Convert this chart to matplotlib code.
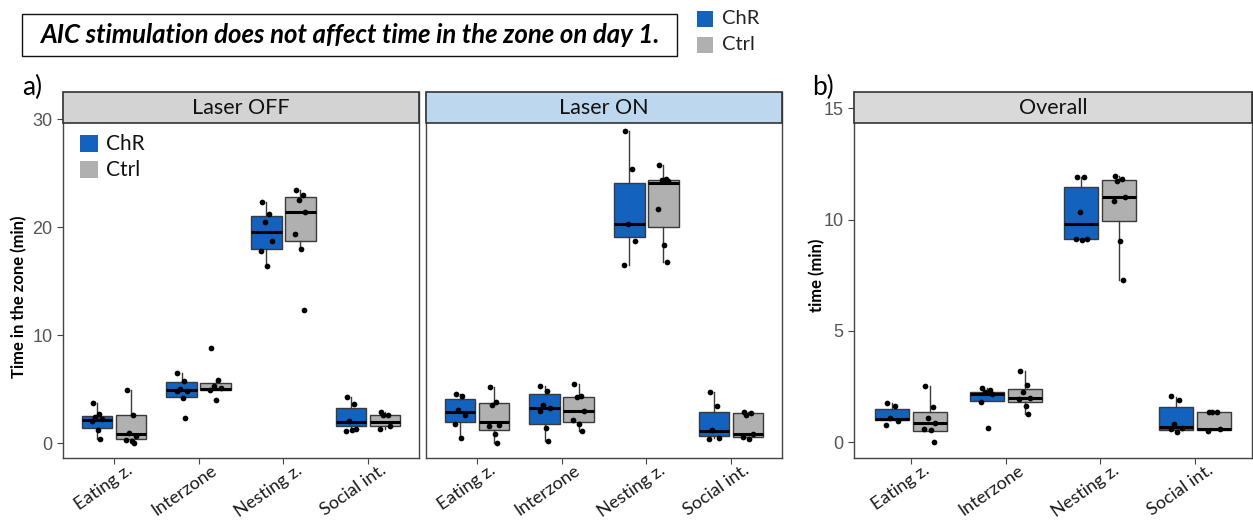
import matplotlib
matplotlib.use("Agg")
import matplotlib.pyplot as plt
from matplotlib.patches import Rectangle
from matplotlib.transforms import ScaledTranslation, blended_transform_factory

# ---------------- data ----------------
categories = ["Eating z.", "Interzone", "Nesting z.", "Social int."]
groups = ["ChR", "Ctrl"]

# box statistics per category: (whisker low, Q1, median, Q3, whisker high)
off_chr_box = [(0.40, 1.39, 2.16, 2.53, 3.72), (4.17, 4.23, 4.88, 5.62, 6.48),
               (16.36, 17.99, 19.57, 21.02, 22.28), (1.14, 1.54, 1.98, 3.21, 4.26)]
off_ctrl_box = [(0.00, 0.37, 0.86, 2.62, 4.94), (4.88, 4.88, 5.00, 5.56, 5.75),
                (17.99, 18.67, 21.36, 22.78, 23.46), (1.30, 1.54, 1.91, 2.59, 2.84)]
on_chr_box = [(0.46, 1.98, 2.84, 4.07, 4.57), (0.22, 1.79, 3.24, 4.51, 5.31),
              (16.51, 19.07, 20.28, 24.07, 28.86), (0.43, 0.62, 1.14, 2.87, 4.72)]
on_ctrl_box = [(0.00, 1.23, 1.94, 3.70, 5.19), (1.08, 1.91, 2.93, 4.26, 5.46),
               (16.76, 20.00, 24.07, 24.38, 25.77), (0.45, 0.56, 0.86, 2.78, 2.90)]
all_chr_box = [(1.00, 1.00, 1.05, 1.50, 1.78), (1.86, 1.86, 2.17, 2.28, 2.46),
               (9.13, 9.15, 9.78, 11.47, 11.90), (0.55, 0.55, 0.70, 1.60, 2.05)]
all_ctrl_box = [(0.52, 0.52, 0.88, 1.35, 2.53), (1.26, 1.80, 2.01, 2.40, 3.22),
                (7.29, 9.93, 11.03, 11.80, 11.96), (0.55, 0.55, 0.58, 1.35, 1.38)]

# individual animals
off_chr_pts = [[3.72, 2.65, 2.45, 2.20, 2.05, 1.25, 0.40],
               [6.48, 5.71, 5.00, 4.85, 4.78, 4.17, 2.31],
               [22.28, 21.17, 20.49, 18.67, 17.78, 16.36],
               [4.26, 3.61, 2.00, 1.33, 1.14, 1.20]]
off_ctrl_pts = [[4.94, 2.62, 0.90, 0.65, 0.30, 0.15, 0.02],
                [8.77, 5.80, 5.31, 5.09, 4.94, 3.95],
                [23.46, 22.99, 22.53, 21.36, 19.35, 17.99, 12.35],
                [2.84, 2.62, 2.55, 1.54, 1.30]]
on_chr_pts = [[4.57, 4.38, 3.02, 2.62, 1.79, 0.46],
              [5.31, 4.85, 3.55, 3.24, 2.99, 1.42, 0.22],
              [28.86, 25.40, 20.28, 18.67, 16.51],
              [4.72, 3.46, 1.17, 0.46, 0.40]]
on_ctrl_pts = [[5.19, 3.77, 3.55, 1.70, 1.55, 0.86, 0.00],
               [5.46, 4.32, 4.26, 2.93, 2.16, 1.79, 1.08],
               [25.77, 24.48, 24.38, 24.23, 21.70, 18.30, 16.76],
               [2.90, 2.78, 2.62, 0.86, 0.56, 0.40]]
all_chr_pts = [[1.78, 1.63, 1.08, 0.97, 0.78],
               [2.46, 2.35, 2.25, 2.17, 1.80, 0.63],
               [11.90, 11.90, 10.36, 9.13, 9.13, 9.09],
               [2.10, 1.90, 0.81, 0.63, 0.58, 0.48]]
all_ctrl_pts = [[2.53, 1.57, 1.11, 0.88, 0.58, 0.55, 0.00],
                [3.22, 2.57, 2.28, 2.01, 1.95, 1.65, 1.26],
                [11.96, 11.84, 11.75, 11.03, 10.82, 9.06, 7.29],
                [1.38, 1.38, 1.35, 0.60, 0.51]]

# ---------------- style ----------------
CHR_COLOR = "#1262be"
CTRL_COLOR = "#b0b0b0"
W, H = 1253, 521
LABEL_FONT = ["Lato", "DejaVu Sans"]
TICK_FONT = ["Liberation Sans", "DejaVu Sans"]
JITTER = [-0.05, 0.03, -0.02, 0.06, -0.06, 0.01, 0.04]

fig = plt.figure(figsize=(W / 100, H / 100), dpi=100)


def px_axes(x0, y0, x1, y1):
    """Axes from pixel box (top-left origin)."""
    return fig.add_axes([x0 / W, 1 - y1 / H, (x1 - x0) / W, (y1 - y0) / H])


def draw_panel(ax, chr_box, ctrl_box, chr_pts, ctrl_pts, ylim, yticks,
               strip_text, strip_color, strip_frac, show_y=True):
    ax.set_xlim(0.4, 4.6)
    ax.set_ylim(*ylim)
    for boxes, pts, off, col in ((chr_box, chr_pts, -0.2, CHR_COLOR),
                                 (ctrl_box, ctrl_pts, 0.2, CTRL_COLOR)):
        stats = [dict(whislo=b[0], q1=b[1], med=b[2], q3=b[3], whishi=b[4], fliers=[])
                 for b in boxes]
        pos = [i + 1 + off for i in range(len(categories))]
        ax.bxp(stats, positions=pos, widths=0.36, patch_artist=True, showcaps=False,
               showfliers=False,
               boxprops=dict(facecolor=col, edgecolor="#3a3a3a", linewidth=1.0),
               medianprops=dict(color="black", linewidth=2.2),
               whiskerprops=dict(color="#3a3a3a", linewidth=1.0), manage_ticks=False)
        for i, vals in enumerate(pts):
            xs = [pos[i] + JITTER[k % len(JITTER)] for k in range(len(vals))]
            ax.scatter(xs, vals, s=17, color="black", zorder=5, linewidths=0)
    ticks = list(range(1, len(categories) + 1))
    ax.set_xticks(ticks)
    ax.set_xticklabels([])
    # rotated category labels, anchored a little right of and below each tick
    base = blended_transform_factory(ax.transData, ax.transAxes)
    shift = ScaledTranslation(12 / 100, -4 / 100, fig.dpi_scale_trans)
    for t, name in zip(ticks, categories):
        ax.text(t, 0, name, transform=base + shift, rotation=35, ha="right", va="top",
                rotation_mode="anchor", fontsize=13, family=LABEL_FONT,
                color="#1a1a1a", clip_on=False)
    ax.set_yticks(yticks)
    ax.tick_params(axis="both", direction="out", length=4, color="#444444", width=0.8)
    if show_y:
        ax.set_yticklabels([str(t) for t in yticks], fontsize=13, family=TICK_FONT,
                           color="#555555")
    else:
        ax.set_yticklabels([])
        ax.tick_params(axis="y", length=0)
    ax.spines["top"].set_visible(False)
    for side in ("left", "right", "bottom"):
        ax.spines[side].set_color("#444444")
        ax.spines[side].set_linewidth(1.0)
    # facet strip drawn across the top of the axes
    strip = Rectangle((0, 1 - strip_frac), 1, strip_frac, transform=ax.transAxes,
                      facecolor=strip_color, edgecolor="#333333", linewidth=1.2,
                      zorder=10, clip_on=False)
    ax.add_patch(strip)
    ax.text(0.5, 1 - strip_frac / 2, strip_text, transform=ax.transAxes, ha="center",
            va="center", fontsize=15.5, family=LABEL_FONT, color="#111111", zorder=11)


# panel a: 0 at y=443 px, 10.8 px per minute, axes from 92 to 458 px
strip_a = 31 / 366
ylim_a = (-15 / 10.8, 351 / 10.8)
ax_off = px_axes(63, 92, 419, 458)
draw_panel(ax_off, off_chr_box, off_ctrl_box, off_chr_pts, off_ctrl_pts, ylim_a,
           [0, 10, 20, 30], "Laser OFF", "#d3d3d3", strip_a)
ax_off.set_ylabel("Time in the zone (min)", fontsize=12, fontweight="bold",
                  family=LABEL_FONT)
ax_off.yaxis.set_label_coords((27 - 63) / 356, (458 - 297) / 366)

ax_on = px_axes(426, 92, 782, 458)
draw_panel(ax_on, on_chr_box, on_ctrl_box, on_chr_pts, on_ctrl_pts, ylim_a,
           [0, 10, 20, 30], "Laser ON", "#bdd7ee", strip_a, show_y=False)

# panel b: 0 at y=442.3 px, 22.27 px per minute
ylim_b = (-15.7 / 22.27, 350.3 / 22.27)
ax_all = px_axes(854, 92, 1252, 458)
draw_panel(ax_all, all_chr_box, all_ctrl_box, all_chr_pts, all_ctrl_pts, ylim_b,
           [0, 5, 10, 15], "Overall", "#d9d9d9", strip_a)
ax_all.set_ylabel("time (min)", fontsize=12, fontweight="bold", family=LABEL_FONT)
ax_all.yaxis.set_label_coords((825 - 854) / 398, (458 - 275) / 366)

# inner legend of panel a
for k, (name, col) in enumerate(zip(groups, [CHR_COLOR, CTRL_COLOR])):
    ytop = 135 + k * 26
    fig.patches.append(Rectangle((80 / W, 1 - (ytop + 17) / H), 18 / W, 17 / H,
                                 transform=fig.transFigure, facecolor=col,
                                 edgecolor="none"))
    fig.text(106 / W, 1 - (ytop + 8.5) / H, name, fontsize=15, family=LABEL_FONT,
             va="center", ha="left", color="#111111")

# top legend
for k, (name, col) in enumerate(zip(groups, [CHR_COLOR, CTRL_COLOR])):
    ytop = 11 + k * 26
    fig.patches.append(Rectangle((697 / W, 1 - (ytop + 16) / H), 16 / W, 16 / H,
                                 transform=fig.transFigure, facecolor=col,
                                 edgecolor="none"))
    fig.text(722 / W, 1 - (ytop + 8) / H, name, fontsize=14.5, family=LABEL_FONT,
             va="center", ha="left", color="#222222")

# title box
fig.patches.append(Rectangle((22 / W, 1 - 56 / H), 655 / W, 42 / H,
                             transform=fig.transFigure, facecolor="white",
                             edgecolor="#111111", linewidth=1.0))
fig.text(349.5 / W, 1 - 35 / H, "AIC stimulation does not affect time in the zone on day 1.",
         fontsize=18.5, fontweight="bold", fontstyle="italic", family=LABEL_FONT,
         ha="center", va="center", color="black")

# panel letters
fig.text(22 / W, 1 - 87 / H, "a)", fontsize=19, family=LABEL_FONT, va="center")
fig.text(812 / W, 1 - 87 / H, "b)", fontsize=19, family=LABEL_FONT, va="center")

fig.savefig("out.png", dpi=100, facecolor="white")
